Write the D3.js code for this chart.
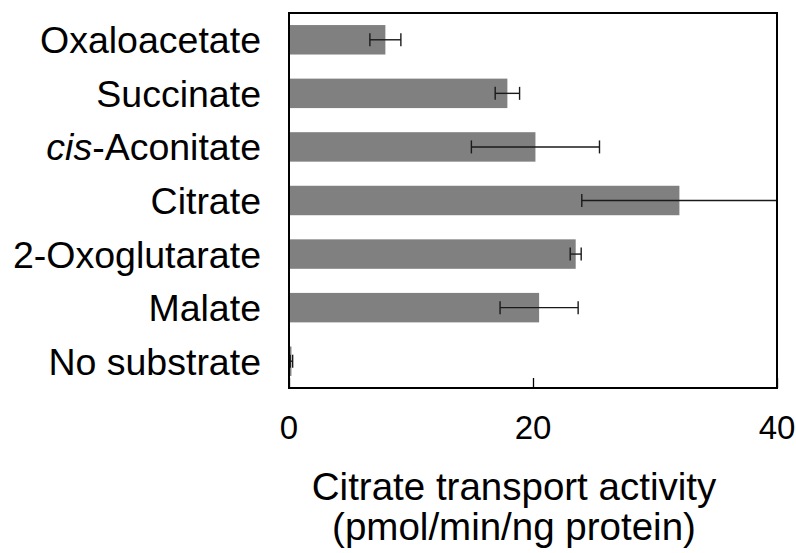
<!DOCTYPE html>
<html>
<head>
<meta charset="utf-8">
<script src="https://cdn.jsdelivr.net/npm/d3@7"></script>
<style>
  body { margin: 0; background: #fff; }
  text { font-family: "Liberation Sans", Arial, sans-serif; fill: #000; }
</style>
</head>
<body>
<svg id="barchart"></svg>
<script>
// substrates, top to bottom
var substrates = ["Oxaloacetate", "Succinate", "cis-Aconitate", "Citrate", "2-Oxoglutarate", "Malate", "No substrate"]
var activity = [7.9, 17.9, 20.2, 32.0, 23.5, 20.5, 0.2]
var errors = [1.27, 1.0, 5.25, 8.0, 0.45, 3.2, 0.1]
var xTicks = [0, 20, 40]
var xTitle = ["Citrate transport activity", "(pmol/min/ng protein)"]

var dimensions = {
    width: 796,
    height: 553,
    margin: {
        top: 13,
        bottom: 165,
        right: 19,
        left: 289
    }
}

var data = substrates.map(function (s, i) {
    return { name: s, value: activity[i], err: errors[i] }
})

var svg = d3.select("#barchart")
    .attr("width", dimensions.width)
    .attr("height", dimensions.height)

var plotBottom = dimensions.height - dimensions.margin.bottom
var plotRight = dimensions.width - dimensions.margin.right

var xScale = d3.scaleLinear()
    .domain([0, 40])
    .range([dimensions.margin.left, plotRight])

var yScale = d3.scaleBand()
    .domain(substrates)
    .range([dimensions.margin.top, plotBottom])
    .paddingInner(0.45)
    .paddingOuter(0.225)

// bars
svg.append("g")
    .selectAll("rect")
    .data(data)
    .enter()
    .append("rect")
    .attr("x", xScale(0))
    .attr("y", d => yScale(d.name))
    .attr("width", d => xScale(d.value) - xScale(0))
    .attr("height", yScale.bandwidth())
    .attr("fill", "#808080")

// error bars
var capH = 6.5
var eb = svg.append("g")
    .attr("stroke", "#1a1a1a")
    .attr("stroke-width", 1.4)
    .selectAll("g")
    .data(data)
    .enter()
    .append("g")

eb.append("line")
    .attr("x1", d => xScale(d.value - d.err))
    .attr("x2", d => xScale(d.value + d.err))
    .attr("y1", d => yScale(d.name) + yScale.bandwidth() / 2)
    .attr("y2", d => yScale(d.name) + yScale.bandwidth() / 2)

eb.append("line")
    .attr("x1", d => xScale(d.value - d.err))
    .attr("x2", d => xScale(d.value - d.err))
    .attr("y1", d => yScale(d.name) + yScale.bandwidth() / 2 - capH)
    .attr("y2", d => yScale(d.name) + yScale.bandwidth() / 2 + capH)

eb.append("line")
    .attr("x1", d => xScale(d.value + d.err))
    .attr("x2", d => xScale(d.value + d.err))
    .attr("y1", d => yScale(d.name) + yScale.bandwidth() / 2 - capH)
    .attr("y2", d => yScale(d.name) + yScale.bandwidth() / 2 + capH)

// inward ticks
var xAxis = d3.axisBottom(xScale)
    .tickValues(xTicks)
    .tickSizeInner(-10)
    .tickSizeOuter(0)
    .tickFormat("")

var axisG = svg.append("g")
    .attr("transform", "translate(0," + plotBottom + ")")
    .call(xAxis)
axisG.select(".domain").remove()
axisG.selectAll("line").attr("stroke", "#000").attr("stroke-width", 1.3)

// frame
svg.append("rect")
    .attr("x", xScale(0))
    .attr("y", dimensions.margin.top)
    .attr("width", plotRight - xScale(0))
    .attr("height", plotBottom - dimensions.margin.top)
    .attr("fill", "none")
    .attr("stroke", "#000")
    .attr("stroke-width", 2)

// tick labels
svg.append("g")
    .selectAll("text")
    .data(xTicks)
    .enter()
    .append("text")
    .attr("x", d => xScale(d))
    .attr("y", plotBottom + 51)
    .attr("text-anchor", "middle")
    .attr("font-size", "33px")
    .text(d => d)

// category labels
var labels = svg.append("g")
    .selectAll("text")
    .data(substrates)
    .enter()
    .append("text")
    .attr("x", dimensions.margin.left - 28)
    .attr("y", d => yScale(d) + yScale.bandwidth() / 2 + 13.5)
    .attr("text-anchor", "end")
    .attr("font-size", "37.5px")

labels.each(function (d) {
    var t = d3.select(this)
    if (d.indexOf("cis-") === 0) {
        t.append("tspan").attr("font-style", "italic").text("cis")
        t.append("tspan").text(d.slice(3))
    } else {
        t.text(d)
    }
})

// axis title
svg.append("g")
    .selectAll("text")
    .data(xTitle)
    .enter()
    .append("text")
    .attr("x", 514)
    .attr("y", (d, i) => 500 + i * 40)
    .attr("text-anchor", "middle")
    .attr("font-size", "38.5px")
    .text(d => d)
</script>
</body>
</html>
